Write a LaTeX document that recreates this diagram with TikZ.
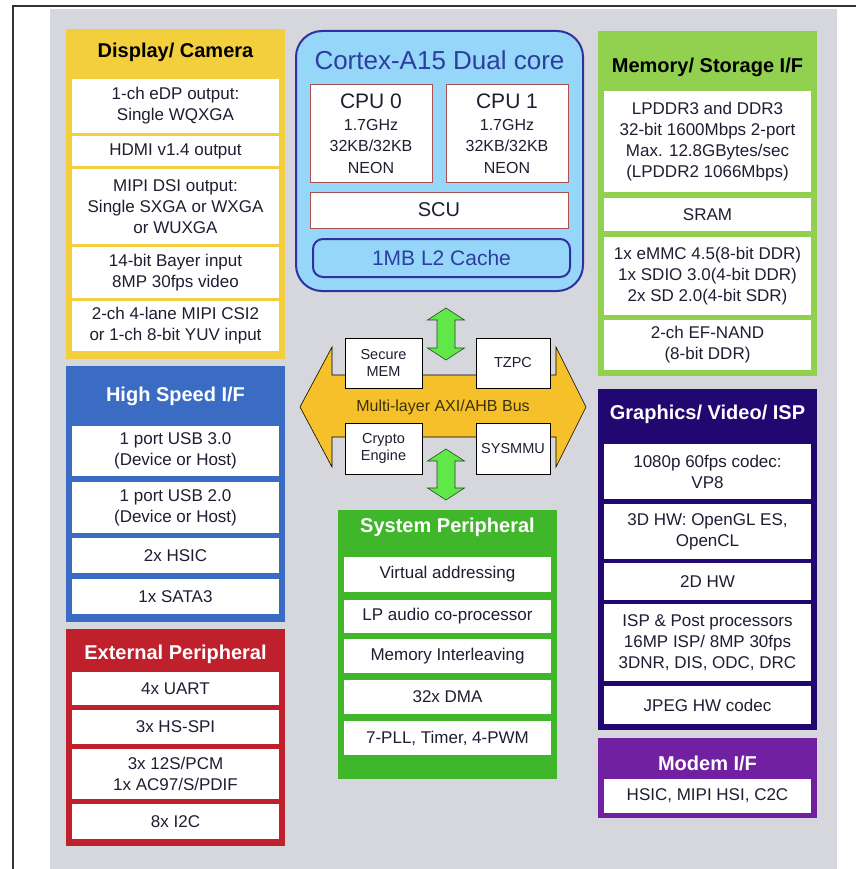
\documentclass[tikz,border=0pt]{standalone}
\usepackage{fontspec}
\setmainfont{Liberation Sans}
\usepackage{tikz}
\usepackage{xcolor}
\definecolor{bggray}{RGB}{214,215,220}
\definecolor{framegray}{RGB}{50,50,50}
\definecolor{dispyellow}{RGB}{243,207,62}
\definecolor{hsblue}{RGB}{58,108,196}
\definecolor{extred}{RGB}{192,32,44}
\definecolor{memgreen}{RGB}{146,208,80}
\definecolor{gfxnavy}{RGB}{32,8,112}
\definecolor{modempurple}{RGB}{112,32,160}
\definecolor{sysgreen}{RGB}{64,183,42}
\definecolor{cortexblue}{RGB}{150,214,248}
\definecolor{cortexline}{RGB}{48,48,160}
\definecolor{cortextext}{RGB}{45,62,160}
\definecolor{cpuline}{RGB}{170,80,80}
\definecolor{busorange}{RGB}{246,192,42}
\definecolor{bustext}{RGB}{60,50,10}
\definecolor{arrowgreen}{RGB}{96,232,72}
\definecolor{arrowline}{RGB}{40,70,40}
\definecolor{inktext}{RGB}{30,30,50}
\tikzset{%
    panel/.style={inner sep=0pt, draw=none, minimum width=219pt},
    cell/.style={fill=white, inner sep=0pt, minimum width=207pt, align=center,
        text=inktext, font=\fontsize{17}{21}\selectfont},
    heading/.style={font=\bfseries\fontsize{20}{24}\selectfont},
    tag/.style={draw=black, fill=white, inner sep=0pt, align=center,
        text=inktext, font=\fontsize{14.5}{17}\selectfont},
    corebox/.style={draw=cpuline, line width=1pt, fill=white, inner sep=0pt, align=center,
        text=inktext}
}

\begin{document}
\begin{tikzpicture}[x=1pt,y=-1pt]
    \useasboundingbox (0,0) rectangle (856,869);
    \fill[bggray] (50,9) rectangle (837,869);
    \draw[line width=1.5pt, framegray] (13,869) -- (13,6) -- (856,6);
%-----------------------------------------------
    \node[panel, fill=dispyellow, minimum height=330pt] (disp) at (175.5,194) {};
    \node[heading] (dispT) at (175.5,52) {Display/ Camera};
    \node[cell, minimum height=54pt] (disp1) at (175.5,106) {1-ch eDP output:\\Single WQXGA};
    \node[cell, minimum height=30pt] (disp2) at (175.5,151) {HDMI v1.4 output};
    \node[cell, minimum height=75pt] (disp3) at (175.5,206.5) {MIPI DSI output:\\Single SXGA or WXGA\\or WUXGA};
    \node[cell, minimum height=51pt] (disp4) at (175.5,272.5) {14-bit Bayer input\\8MP 30fps video};
    \node[cell, minimum height=50pt] (disp5) at (175.5,326) {2-ch 4-lane MIPI CSI2\\or 1-ch 8-bit YUV input};
%-----------------------------------------------
    \node[panel, fill=hsblue, minimum height=256pt] (hs) at (175.5,494) {};
    \node[heading, text=white] (hsT) at (175.5,396) {High Speed I/F};
    \node[cell, minimum height=50pt] (hs1) at (175.5,451) {1 port USB 3.0\\(Device or Host)};
    \node[cell, minimum height=51pt] (hs2) at (175.5,507.5) {1 port USB 2.0\\(Device or Host)};
    \node[cell, minimum height=35pt] (hs3) at (175.5,555.5) {2x HSIC};
    \node[cell, minimum height=35pt] (hs4) at (175.5,596.5) {1x SATA3};
%-----------------------------------------------
    \node[panel, fill=extred, minimum height=217pt] (ext) at (175.5,737.5) {};
    \node[heading, text=white] (extT) at (175.5,654) {External Peripheral};
    \node[cell, minimum height=33pt] (ext1) at (175.5,688.5) {4x UART};
    \node[cell, minimum height=34pt] (ext2) at (175.5,727) {3x HS-SPI};
    \node[cell, minimum height=50pt] (ext3) at (175.5,774) {3x 12S/PCM\\1x AC97/S/PDIF};
    \node[cell, minimum height=35pt] (ext4) at (175.5,821.5) {8x I2C};
%-----------------------------------------------
    \node[panel, fill=memgreen, minimum height=345pt] (mem) at (707.5,203.5) {};
    \node[heading] (memT) at (707.5,67) {Memory/ Storage I/F};
    \node[cell, minimum height=101pt] (mem1) at (707.5,141.5) {LPDDR3 and DDR3\\32-bit 1600Mbps 2-port\\Max. 12.8GBytes/sec\\(LPDDR2 1066Mbps)};
    \node[cell, minimum height=33pt] (mem2) at (707.5,214.5) {SRAM};
    \node[cell, minimum height=78pt] (mem3) at (707.5,276) {1x eMMC 4.5(8-bit DDR)\\1x SDIO 3.0(4-bit DDR)\\2x SD 2.0(4-bit SDR)};
    \node[cell, minimum height=50pt] (mem4) at (707.5,345) {2-ch EF-NAND\\(8-bit DDR)};
%-----------------------------------------------
    \node[panel, fill=gfxnavy, minimum height=341pt] (gfx) at (707.5,559.5) {};
    \node[heading, text=white] (gfxT) at (707.5,414) {Graphics/ Video/ ISP};
    \node[cell, minimum height=55pt] (gfx1) at (707.5,471.5) {1080p 60fps codec:\\VP8};
    \node[cell, minimum height=55pt] (gfx2) at (707.5,531.5) {3D HW: OpenGL ES,\\OpenCL};
    \node[cell, minimum height=37pt] (gfx3) at (707.5,581.5) {2D HW};
    \node[cell, minimum height=77pt] (gfx4) at (707.5,642.5) {ISP \& Post processors\\16MP ISP/ 8MP 30fps\\3DNR, DIS, ODC, DRC};
    \node[cell, minimum height=38pt] (gfx5) at (707.5,705) {JPEG HW codec};
%-----------------------------------------------
    \node[panel, fill=modempurple, minimum height=80pt] (modem) at (707.5,778) {};
    \node[heading, text=white] (modemT) at (707.5,763) {Modem I/F};
    \node[cell, minimum height=34pt] (modem1) at (707.5,796) {HSIC, MIPI HSI, C2C};
%-----------------------------------------------
    \node[panel, fill=sysgreen, minimum height=269pt] (sysp) at (447.5,644.5) {};
    \node[heading, text=white] (syspT) at (447.5,527) {System Peripheral};
    \node[cell, minimum height=35pt] (sysp1) at (447.5,574.5) {Virtual addressing};
    \node[cell, minimum height=33pt] (sysp2) at (447.5,616.5) {LP audio co-processor};
    \node[cell, minimum height=34pt] (sysp3) at (447.5,656) {Memory Interleaving};
    \node[cell, minimum height=34pt] (sysp4) at (447.5,697) {32x DMA};
    \node[cell, minimum height=34pt] (sysp5) at (447.5,738) {7-PLL, Timer, 4-PWM};
%-----------------------------------------------
    \node[panel, draw=cortexline, line width=2pt, fill=cortexblue, rounded corners=26pt,
        minimum width=287pt, minimum height=260pt] (cortex) at (439.5,161) {};
    \node[text=cortextext, font=\fontsize{26}{30}\selectfont] (cortexT) at (439.5,60) {Cortex-A15 Dual core};
    \node[corebox, minimum width=122pt, minimum height=97pt, font=\fontsize{16}{21.5}\selectfont] (cpu0) at (371,133.5)
        {{\fontsize{21}{23}\selectfont CPU 0}\\1.7GHz\\32KB/32KB\\NEON};
    \node[corebox, minimum width=122pt, minimum height=97pt, font=\fontsize{16}{21.5}\selectfont] (cpu1) at (507,133.5)
        {{\fontsize{21}{23}\selectfont CPU 1}\\1.7GHz\\32KB/32KB\\NEON};
    \node[corebox, minimum width=258pt, minimum height=36pt, font=\fontsize{20}{24}\selectfont] (scu) at (439,210) {SCU};
    \node[draw=cortexline, line width=2pt, fill=cortexblue, rounded corners=10pt, inner sep=0pt,
        minimum width=257pt, minimum height=38pt, text=cortextext,
        font=\fontsize{21}{24}\selectfont] (cache) at (441.5,258) {1MB L2 Cache};
%-----------------------------------------------
    \draw[fill=busorange, draw=black, line width=0.6pt] (300,407) -- (332,347) -- (332,375) -- (556,375)
        -- (556,347) -- (586,407) -- (556,467) -- (556,437) -- (332,437) -- (332,467) -- cycle;
    \node[text=bustext, font=\fontsize{16}{20}\selectfont] (bus) at (443,407) {Multi-layer AXI/AHB Bus};
    \node[tag, minimum width=77pt, minimum height=50pt] (secmem) at (383.5,363) {Secure\\MEM};
    \node[tag, minimum width=74pt, minimum height=50pt] (tzpc) at (513,363) {TZPC};
    \node[tag, minimum width=77pt, minimum height=51pt] (crypto) at (383.5,448.5) {Crypto\\Engine};
    \node[tag, minimum width=74pt, minimum height=51pt] (sysmmu) at (513,448.5) {SYSMMU};
%-----------------------------------------------
    \draw[fill=arrowgreen, draw=arrowline, line width=0.6pt] (446,308) -- (464.5,320) -- (455,320) -- (455,348)
        -- (464.5,348) -- (446,360) -- (427.5,348) -- (437,348) -- (437,320) -- (427.5,320) -- cycle;
    \draw[fill=arrowgreen, draw=arrowline, line width=0.6pt] (446,449) -- (464.5,461) -- (455,461) -- (455,488)
        -- (464.5,488) -- (446,500) -- (427.5,488) -- (437,488) -- (437,461) -- (427.5,461) -- cycle;
\end{tikzpicture}
\end{document}
